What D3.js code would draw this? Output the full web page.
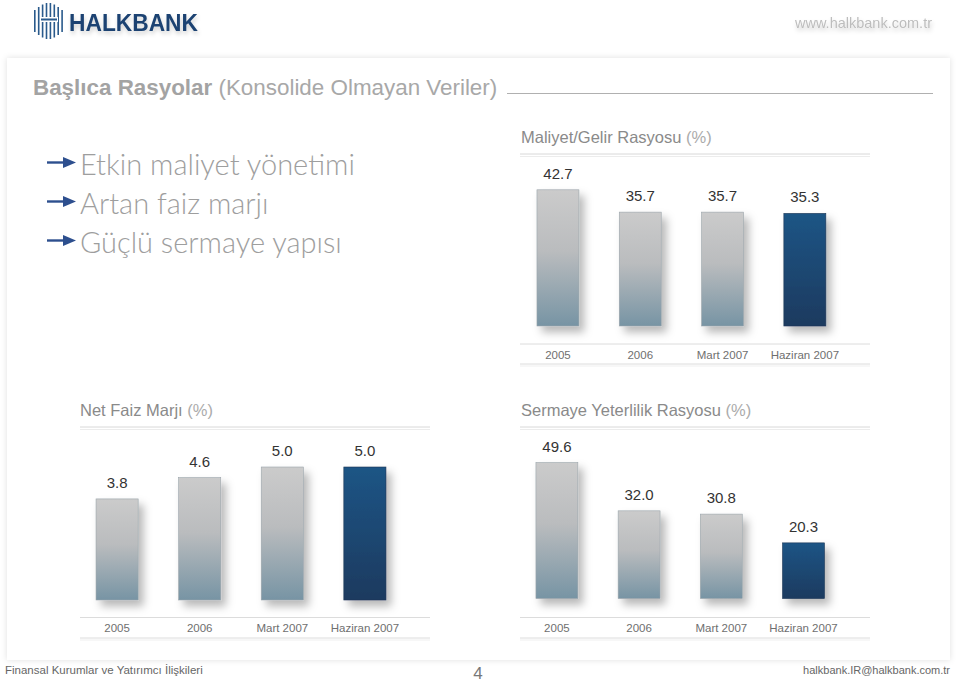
<!DOCTYPE html>
<html><head><meta charset="utf-8">
<script src="https://cdn.jsdelivr.net/npm/d3@7/dist/d3.min.js"></script>
<style>
html,body{margin:0;padding:0;background:#fff;}
svg{display:block;font-family:"Liberation Sans",Arial,sans-serif;}
</style></head><body>
<svg id="c" width="960" height="683"></svg>
<script>
// ---- data ----
const categories = ["2005", "2006", "Mart 2007", "Haziran 2007"];
const maliyetGelir = [42.7, 35.7, 35.7, 35.3];
const netFaizMarji = [3.8, 4.6, 5.0, 5.0];
const sermayeYeterlilik = [49.6, 32.0, 30.8, 20.3];
const highlightCategory = "Haziran 2007";
const bullets = ["Etkin maliyet yönetimi", "Artan faiz marjı", "Güçlü sermaye yapısı"];
const mainTitleBold = "Başlıca Rasyolar";
const mainTitleRest = "(Konsolide Olmayan Veriler)";
const chartTitles = ["Maliyet/Gelir Rasyosu", "Net Faiz Marjı", "Sermaye Yeterlilik Rasyosu"];
const footerLeft = "Finansal Kurumlar ve Yatırımcı İlişkileri";
const footerRight = "halkbank.IR@halkbank.com.tr";
const pageNumber = "4";
const website = "www.halkbank.com.tr";

const svg = d3.select("#c");
const defs = svg.append("defs");

// gradients & filters
const gGray = defs.append("linearGradient").attr("id","gGray").attr("x1",0).attr("y1",0).attr("x2",0).attr("y2",1);
gGray.append("stop").attr("offset","0%").attr("stop-color","#cbcbcb");
gGray.append("stop").attr("offset","45%").attr("stop-color","#babcbe");
gGray.append("stop").attr("offset","100%").attr("stop-color","#7794a4");
const gBlue = defs.append("linearGradient").attr("id","gBlue").attr("x1",0).attr("y1",0).attr("x2",0).attr("y2",1);
gBlue.append("stop").attr("offset","0%").attr("stop-color","#1f5585");
gBlue.append("stop").attr("offset","100%").attr("stop-color","#1e3a5f");
const sh = defs.append("filter").attr("id","barShadow").attr("x","-30%").attr("y","-20%").attr("width","180%").attr("height","150%");
sh.append("feDropShadow").attr("dx",5).attr("dy",6).attr("stdDeviation",4).attr("flood-color","#000").attr("flood-opacity",0.28);
const psh = defs.append("filter").attr("id","panelShadow").attr("x","-5%").attr("y","-5%").attr("width","110%").attr("height","110%");
psh.append("feDropShadow").attr("dx",0).attr("dy",0).attr("stdDeviation",3).attr("flood-color","#000").attr("flood-opacity",0.12);
const tsh = defs.append("filter").attr("id","textShadow").attr("x","-10%").attr("y","-30%").attr("width","120%").attr("height","180%");
tsh.append("feDropShadow").attr("dx",1).attr("dy",3).attr("stdDeviation",2).attr("flood-color","#000").attr("flood-opacity",0.18);

// panel
svg.append("rect").attr("x",7).attr("y",58).attr("width",943).attr("height",602)
  .attr("fill","#fff").attr("filter","url(#panelShadow)");

// logo
const logo = svg.append("g");
const stripeX = d3.range(8).map(i => 34 + i*3.9);
const stripeH = [22, 28, 33, 36, 36, 33, 28, 22];
logo.selectAll("rect.stripe").data(stripeX).join("rect")
  .attr("x", d => d).attr("width", 1.6)
  .attr("y", (d,i) => 21 - stripeH[i]/2).attr("height", (d,i) => stripeH[i])
  .attr("fill", "#2a5a8c");
logo.append("rect").attr("x",40).attr("y",17).attr("width",18).attr("height",5).attr("fill","#fff");
logo.append("rect").attr("x",41).attr("y",18.5).attr("width",16).attr("height",2).attr("fill","#2a5a8c");
logo.append("text").attr("x",69).attr("y",31).attr("font-size",24).attr("font-weight","bold")
  .attr("fill","#1c4372").attr("filter","url(#textShadow)").attr("textLength",129).attr("lengthAdjust","spacingAndGlyphs")
  .text("HALKBANK");
svg.append("text").attr("x",932).attr("y",28).attr("text-anchor","end").attr("font-size",14.5)
  .attr("fill","#bdbdbd").attr("filter","url(#textShadow)").text(website);

// main title
const mt = svg.append("text").attr("x",33).attr("y",94.5).attr("font-size",22.4);
mt.append("tspan").attr("font-weight","bold").attr("fill","#a3a3a3").text(mainTitleBold);
mt.append("tspan").attr("fill","#a8a8a8").text(" " + mainTitleRest);
svg.append("line").attr("x1",507).attr("x2",933).attr("y1",93.5).attr("y2",93.5).attr("stroke","#b0b0b0").attr("stroke-width",1.2);

// bullets
const bulletY = d3.scalePoint().domain(bullets).range([175, 253]);
const bg = svg.append("g").selectAll("g").data(bullets).join("g")
  .attr("transform", d => `translate(0,${bulletY(d)})`);
bg.append("line").attr("x1",47).attr("x2",66).attr("y1",-12.5).attr("y2",-12.5).attr("stroke","#2d4f8e").attr("stroke-width",2.4);
bg.append("path").attr("d","M63,-18 L76,-12.5 L63,-7 Z").attr("fill","#2d4f8e");
bg.append("text").attr("x",80).attr("font-size",29).attr("font-family","Lato, 'Open Sans', sans-serif").attr("font-weight",300)
  .attr("fill","#9e9e9e").text(d => d);

// charts
const charts = [
  {title: chartTitles[0], values: maliyetGelir, tx:521, ty:143, x0:516.8, x1:846, lineX1:520, lineX2:870,
   base:326, domainMax:50, top:166.5, titleLine:154, catLine1:344, catLine2:364, catY:359},
  {title: chartTitles[1], values: netFaizMarji, tx:80, ty:415.5, x0:75.8, x1:406.2, lineX1:80, lineX2:430,
   base:600, domainMax:5, top:467, titleLine:427, catLine1:617.5, catLine2:638, catY:632},
  {title: chartTitles[2], values: sermayeYeterlilik, tx:521, ty:415.5, x0:515.8, x1:844.6, lineX1:520, lineX2:870,
   base:598.5, domainMax:50, top:461.5, titleLine:427, catLine1:617.5, catLine2:638, catY:632}
];
const fmt = d3.format(".1f");

charts.forEach(c => {
  const g = svg.append("g");
  const x = d3.scaleBand().domain(categories).range([c.x0, c.x1]).paddingInner(0.49).paddingOuter(0.245);
  const y = d3.scaleLinear().domain([0, c.domainMax]).range([c.base, c.top]);
  const t = g.append("text").attr("x", c.tx).attr("y", c.ty).attr("font-size", 16.5)
    .attr("font-family","'Liberation Sans', Arial, sans-serif");
  t.append("tspan").attr("fill","#8a8a8a").text(c.title);
  t.append("tspan").attr("fill","#ababab").text(" (%)");
  // double lines
  [[c.titleLine,"#d8d8d8"],[c.titleLine+2.5,"#ececec"],[c.catLine1,"#dcdcdc"],[c.catLine2,"#dcdcdc"],[c.catLine2+2,"#efefef"]].forEach(([yy,col]) => {
    g.append("line").attr("x1",c.lineX1).attr("x2",c.lineX2).attr("y1",yy).attr("y2",yy).attr("stroke",col).attr("stroke-width",1);
  });
  const data = categories.map((k,i) => ({k, v: c.values[i]}));
  g.selectAll("rect.bar").data(data).join("rect").attr("class","bar")
    .attr("x", d => x(d.k)).attr("width", x.bandwidth())
    .attr("y", d => y(d.v)).attr("height", d => y(0) - y(d.v))
    .attr("fill", d => d.k === highlightCategory ? "url(#gBlue)" : "url(#gGray)")
    .attr("stroke", d => d.k === highlightCategory ? "#1b3554" : "#9aa4aa").attr("stroke-width",0.6)
    .attr("filter","url(#barShadow)");
  g.selectAll("text.val").data(data).join("text").attr("class","val")
    .attr("x", d => x(d.k) + x.bandwidth()/2).attr("y", d => y(d.v) - 11)
    .attr("text-anchor","middle").attr("font-size",15).attr("fill","#333")
    .attr("font-family","'Liberation Sans', Arial, sans-serif")
    .text(d => fmt(d.v));
  g.selectAll("text.cat").data(categories).join("text").attr("class","cat")
    .attr("x", d => x(d) + x.bandwidth()/2).attr("y", c.catY)
    .attr("text-anchor","middle").attr("font-size",11.5).attr("fill","#6f6f6f")
    .attr("font-family","'Liberation Sans', Arial, sans-serif")
    .text(d => d);
});

// footer
svg.append("text").attr("x",5).attr("y",674).attr("font-size",11.5).attr("fill","#666")
  .attr("font-family","'Liberation Sans', Arial, sans-serif").text(footerLeft);
svg.append("text").attr("x",478).attr("y",679).attr("text-anchor","middle").attr("font-size",17).attr("fill","#777")
  .attr("font-family","'Liberation Sans', Arial, sans-serif").text(pageNumber);
svg.append("text").attr("x",950).attr("y",674).attr("text-anchor","end").attr("font-size",11).attr("fill","#666")
  .attr("font-family","'Liberation Sans', Arial, sans-serif").text(footerRight);
</script>
</body></html>
